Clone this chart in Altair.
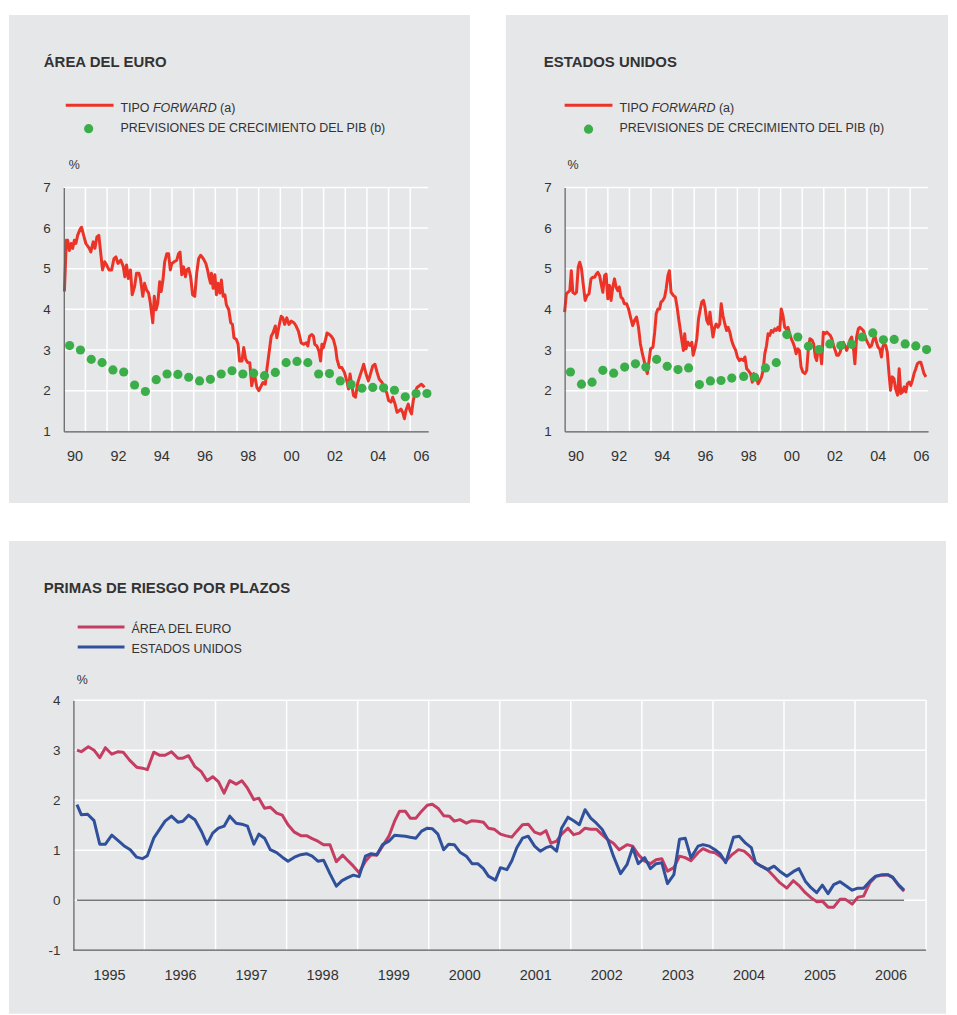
import altair as alt
import pandas as pd

# ---------------- data ----------------
# Área del euro: tipo forward (year, %)
euro_fwd = [(1990.03,4.44),(1990.12,5.70),(1990.18,5.70),(1990.26,5.45),(1990.34,5.62),(1990.41,5.50),(1990.49,5.70),(1990.56,5.62),(1990.64,5.82),(1990.76,5.98),(1990.82,6.02),(1990.92,5.82),(1991.02,5.62),(1991.18,5.50),(1991.25,5.41),(1991.36,5.66),(1991.44,5.50),(1991.53,5.78),(1991.62,5.82),(1991.71,5.37),(1991.79,4.97),(1991.89,5.17),(1991.98,5.09),(1992.09,4.97),(1992.21,4.97),(1992.32,5.25),(1992.41,5.29),(1992.50,5.13),(1992.63,5.21),(1992.75,5.05),(1992.82,4.80),(1992.90,5.09),(1992.98,4.76),(1993.08,4.97),(1993.16,4.36),(1993.27,4.56),(1993.36,4.89),(1993.47,4.89),(1993.54,4.76),(1993.65,4.32),(1993.73,4.64),(1993.82,4.48),(1993.92,4.40),(1994.00,4.15),(1994.11,3.67),(1994.18,4.32),(1994.26,3.99),(1994.34,4.15),(1994.43,4.68),(1994.50,4.44),(1994.58,4.72),(1994.66,5.17),(1994.76,5.37),(1994.84,5.37),(1994.92,4.97),(1994.99,5.13),(1995.10,5.17),(1995.22,5.21),(1995.30,5.37),(1995.37,5.41),(1995.45,4.85),(1995.53,5.05),(1995.62,4.80),(1995.68,4.97),(1995.77,5.01),(1995.86,4.80),(1995.95,4.36),(1996.05,4.32),(1996.14,4.89),(1996.23,5.25),(1996.32,5.33),(1996.44,5.25),(1996.56,5.13),(1996.64,4.97),(1996.72,4.76),(1996.78,4.64),(1996.82,4.89),(1996.90,4.52),(1996.98,4.85),(1997.05,4.36),(1997.13,4.64),(1997.21,4.40),(1997.28,4.72),(1997.36,4.32),(1997.44,4.36),(1997.51,4.11),(1997.62,3.99),(1997.71,3.67),(1997.79,3.63),(1997.86,3.30),(1997.97,3.26),(1998.05,3.14),(1998.12,2.73),(1998.23,2.73),(1998.31,3.06),(1998.40,2.77),(1998.50,2.69),(1998.59,2.69),(1998.68,2.12),(1998.77,2.37),(1998.83,2.33),(1998.92,2.08),(1999.01,2.00),(1999.12,2.12),(1999.20,2.20),(1999.31,2.16),(1999.38,2.53),(1999.47,2.89),(1999.58,3.34),(1999.66,3.42),(1999.77,3.59),(1999.84,3.30),(1999.94,3.59),(2000.04,3.83),(2000.12,3.79),(2000.20,3.63),(2000.30,3.79),(2000.40,3.63),(2000.50,3.71),(2000.63,3.67),(2000.73,3.59),(2000.84,3.46),(2000.96,3.18),(2001.07,3.14),(2001.20,3.18),(2001.27,3.10),(2001.35,3.34),(2001.46,3.38),(2001.53,3.34),(2001.59,3.14),(2001.69,3.10),(2001.78,2.98),(2001.86,2.73),(2001.92,3.14),(2001.99,3.06),(2002.09,3.26),(2002.16,3.42),(2002.27,3.38),(2002.35,3.34),(2002.45,3.26),(2002.55,3.06),(2002.62,2.77),(2002.73,2.57),(2002.84,2.57),(2002.96,2.45),(2003.07,2.24),(2003.15,2.04),(2003.22,2.41),(2003.28,2.20),(2003.38,1.88),(2003.47,1.84),(2003.58,2.20),(2003.68,2.37),(2003.78,2.53),(2003.85,2.65),(2003.96,2.41),(2004.07,2.24),(2004.14,2.37),(2004.27,2.61),(2004.37,2.65),(2004.47,2.45),(2004.57,2.28),(2004.70,2.20),(2004.80,2.04),(2004.91,1.96),(2005.00,1.76),(2005.11,1.72),(2005.19,1.84),(2005.30,1.67),(2005.39,1.47),(2005.50,1.51),(2005.57,1.55),(2005.65,1.47),(2005.73,1.31),(2005.80,1.51),(2005.91,1.67),(2005.99,1.51),(2006.06,1.43),(2006.14,1.76),(2006.23,1.96),(2006.31,2.08),(2006.42,2.12),(2006.51,2.16),(2006.60,2.12),(2006.65,2.08)]

# Área del euro: previsiones de crecimiento del PIB
euro_gdp = [(1990.27,3.11),(1990.77,3.00),(1991.27,2.77),(1991.77,2.69),(1992.27,2.51),(1992.77,2.46),(1993.27,2.14),(1993.77,1.98),(1994.27,2.27),(1994.77,2.41),(1995.27,2.40),(1995.77,2.33),(1996.27,2.24),(1996.77,2.28),(1997.27,2.41),(1997.77,2.49),(1998.27,2.41),(1998.77,2.43),(1999.27,2.37),(1999.77,2.45),(2000.27,2.69),(2000.77,2.72),(2001.27,2.69),(2001.77,2.41),(2002.27,2.42),(2002.77,2.24),(2003.27,2.15),(2003.77,2.06),(2004.27,2.08),(2004.77,2.07),(2005.27,2.01),(2005.77,1.85),(2006.27,1.93),(2006.77,1.93)]

# Estados Unidos: tipo forward
us_fwd = [(1990.00,3.93),(1990.08,4.38),(1990.15,4.42),(1990.24,4.46),(1990.31,4.95),(1990.38,4.42),(1990.47,4.38),(1990.55,4.42),(1990.63,5.04),(1990.70,5.16),(1990.78,5.00),(1990.85,4.67),(1990.95,4.22),(1991.04,4.34),(1991.13,4.38),(1991.22,4.75),(1991.31,4.79),(1991.39,4.79),(1991.47,4.87),(1991.54,4.91),(1991.62,4.83),(1991.69,4.63),(1991.77,4.42),(1991.85,4.83),(1991.92,4.87),(1992.00,4.26),(1992.08,4.59),(1992.15,4.22),(1992.23,4.55),(1992.31,4.75),(1992.38,4.55),(1992.46,4.46),(1992.53,4.55),(1992.61,4.30),(1992.69,4.26),(1992.76,4.14),(1992.87,4.14),(1992.96,4.01),(1993.05,3.81),(1993.15,3.60),(1993.24,3.73),(1993.33,3.81),(1993.42,3.56),(1993.51,3.15),(1993.60,2.91),(1993.68,2.74),(1993.76,2.54),(1993.83,2.42),(1993.91,2.74),(1993.98,3.03),(1994.09,3.07),(1994.17,3.44),(1994.24,3.89),(1994.32,4.01),(1994.40,4.01),(1994.46,4.18),(1994.55,4.22),(1994.63,4.30),(1994.70,4.50),(1994.78,4.83),(1994.85,4.95),(1994.93,4.42),(1995.04,4.34),(1995.13,4.30),(1995.21,4.05),(1995.28,3.77),(1995.36,3.48),(1995.44,3.19),(1995.50,2.99),(1995.56,3.40),(1995.62,3.03),(1995.71,3.19),(1995.80,3.11),(1995.89,3.19),(1995.95,2.87),(1996.05,3.07),(1996.12,3.28),(1996.20,3.77),(1996.27,3.97),(1996.35,4.18),(1996.43,4.22),(1996.50,4.05),(1996.58,3.73),(1996.66,3.64),(1996.73,3.93),(1996.81,3.56),(1996.87,3.32),(1996.95,3.56),(1997.02,3.64),(1997.10,3.56),(1997.18,3.64),(1997.25,4.14),(1997.33,3.85),(1997.42,3.64),(1997.50,3.48),(1997.57,3.56),(1997.65,3.44),(1997.73,3.24),(1997.82,3.10),(1997.92,2.99),(1998.00,2.83),(1998.09,2.74),(1998.17,2.78),(1998.28,2.74),(1998.35,2.83),(1998.43,2.54),(1998.50,2.50),(1998.61,2.42),(1998.69,2.21),(1998.76,2.42),(1998.86,2.34),(1998.96,2.17),(1999.04,2.25),(1999.12,2.34),(1999.19,2.50),(1999.27,2.91),(1999.35,3.11),(1999.42,3.40),(1999.50,3.36),(1999.57,3.48),(1999.65,3.44),(1999.73,3.52),(1999.80,3.48),(1999.88,3.56),(1999.96,3.48),(2000.03,4.01),(2000.11,3.85),(2000.19,3.56),(2000.26,3.52),(2000.34,3.56),(2000.42,3.40),(2000.49,3.28),(2000.57,3.19),(2000.65,3.07),(2000.72,2.91),(2000.80,3.03),(2000.87,2.99),(2000.95,2.58),(2001.03,2.46),(2001.13,2.42),(2001.21,2.50),(2001.29,3.07),(2001.36,3.28),(2001.46,3.24),(2001.53,3.15),(2001.61,2.83),(2001.67,2.74),(2001.75,3.07),(2001.82,3.03),(2001.90,2.66),(2001.98,3.44),(2002.07,3.40),(2002.14,3.44),(2002.22,3.40),(2002.30,3.36),(2002.37,3.28),(2002.45,3.11),(2002.53,2.99),(2002.60,2.87),(2002.68,2.87),(2002.76,2.95),(2002.83,3.11),(2002.91,3.19),(2002.98,3.11),(2003.06,2.99),(2003.14,3.11),(2003.21,3.24),(2003.29,3.32),(2003.37,3.07),(2003.44,2.66),(2003.52,3.32),(2003.60,3.52),(2003.67,3.56),(2003.75,3.52),(2003.83,3.48),(2003.90,3.36),(2003.98,3.24),(2004.06,3.15),(2004.13,3.07),(2004.21,3.11),(2004.28,3.24),(2004.36,3.36),(2004.44,3.19),(2004.51,3.07),(2004.59,3.03),(2004.67,2.83),(2004.73,3.07),(2004.79,3.15),(2004.87,3.11),(2004.94,2.95),(2005.02,2.42),(2005.09,2.01),(2005.17,2.34),(2005.25,2.30),(2005.32,2.05),(2005.42,1.89),(2005.49,2.54),(2005.57,1.93),(2005.65,1.97),(2005.72,2.09),(2005.80,1.97),(2005.87,2.17),(2005.95,2.21),(2006.03,2.13),(2006.10,2.25),(2006.18,2.42),(2006.26,2.54),(2006.33,2.66),(2006.41,2.70),(2006.49,2.70),(2006.56,2.58),(2006.64,2.42),(2006.73,2.34)]

# Estados Unidos: previsiones de crecimiento del PIB
us_gdp = [(1990.27,2.46),(1990.78,2.16),(1991.27,2.21),(1991.77,2.50),(1992.27,2.43),(1992.78,2.58),(1993.28,2.66),(1993.76,2.58),(1994.26,2.77),(1994.75,2.60),(1995.25,2.52),(1995.74,2.56),(1996.24,2.15),(1996.75,2.24),(1997.24,2.25),(1997.74,2.31),(1998.29,2.35),(1998.80,2.33),(1999.30,2.56),(1999.80,2.69),(2000.29,3.38),(2000.80,3.32),(2001.29,3.09),(2001.78,3.01),(2002.28,3.15),(2002.79,3.11),(2003.29,3.14),(2003.78,3.32),(2004.27,3.42),(2004.76,3.25),(2005.26,3.26),(2005.77,3.15),(2006.26,3.10),(2006.76,3.01)]

# Primas de riesgo por plazos: área del euro
prima_euro = [(1995.05,3.00),(1995.11,2.97),(1995.21,3.07),(1995.29,3.00),(1995.37,2.85),(1995.45,3.05),(1995.54,2.92),(1995.63,2.97),(1995.70,2.96),(1995.79,2.80),(1995.89,2.66),(1995.97,2.64),(1996.04,2.61),(1996.13,2.96),(1996.21,2.90),(1996.29,2.90),(1996.38,2.97),(1996.47,2.84),(1996.54,2.84),(1996.62,2.89),(1996.71,2.67),(1996.80,2.57),(1996.88,2.39),(1996.96,2.47),(1997.04,2.37),(1997.12,2.14),(1997.20,2.39),(1997.29,2.32),(1997.37,2.39),(1997.45,2.24),(1997.54,2.01),(1997.61,2.04),(1997.69,1.84),(1997.77,1.86),(1997.86,1.74),(1997.94,1.70),(1998.02,1.51),(1998.11,1.36),(1998.20,1.29),(1998.28,1.29),(1998.36,1.23),(1998.44,1.18),(1998.52,1.11),(1998.61,1.11),(1998.70,0.77),(1998.79,0.90),(1998.87,0.78),(1998.94,0.68),(1999.02,0.55),(1999.11,0.78),(1999.19,0.91),(1999.27,0.90),(1999.35,1.08),(1999.44,1.28),(1999.52,1.58),(1999.59,1.78),(1999.67,1.78),(1999.74,1.64),(1999.82,1.64),(1999.90,1.78),(1999.98,1.90),(2000.05,1.92),(2000.13,1.84),(2000.21,1.69),(2000.29,1.68),(2000.36,1.58),(2000.44,1.61),(2000.53,1.54),(2000.61,1.59),(2000.69,1.58),(2000.77,1.56),(2000.84,1.44),(2000.92,1.42),(2001.01,1.32),(2001.08,1.29),(2001.17,1.26),(2001.24,1.38),(2001.32,1.51),(2001.40,1.52),(2001.49,1.36),(2001.57,1.32),(2001.65,1.39),(2001.72,1.14),(2001.80,1.18),(2001.87,1.32),(2001.96,1.44),(2002.04,1.31),(2002.12,1.34),(2002.20,1.44),(2002.28,1.42),(2002.36,1.42),(2002.44,1.31),(2002.52,1.21),(2002.60,1.14),(2002.68,1.01),(2002.79,1.11),(2002.87,1.08),(2002.95,0.91),(2003.04,0.78),(2003.12,0.73),(2003.20,0.81),(2003.28,0.83),(2003.36,0.58),(2003.45,0.65),(2003.53,0.88),(2003.61,0.85),(2003.69,0.79),(2003.79,0.95),(2003.86,1.03),(2003.95,0.97),(2004.03,0.95),(2004.10,0.88),(2004.18,0.78),(2004.26,0.90),(2004.36,1.01),(2004.44,0.98),(2004.52,0.88),(2004.60,0.75),(2004.68,0.68),(2004.77,0.61),(2004.85,0.49),(2004.94,0.35),(2005.04,0.24),(2005.13,0.39),(2005.22,0.28),(2005.30,0.15),(2005.38,0.05),(2005.46,-0.03),(2005.54,-0.02),(2005.62,-0.14),(2005.70,-0.14),(2005.79,0.02),(2005.86,0.02),(2005.96,-0.08),(2006.04,0.06),(2006.12,0.08),(2006.21,0.35),(2006.29,0.47),(2006.38,0.50),(2006.46,0.51),(2006.53,0.45),(2006.61,0.30),(2006.69,0.18)]

# Primas de riesgo por plazos: Estados Unidos
prima_us = [(1995.05,1.91),(1995.11,1.71),(1995.20,1.72),(1995.29,1.59),(1995.37,1.12),(1995.45,1.12),(1995.54,1.30),(1995.63,1.19),(1995.71,1.09),(1995.80,1.01),(1995.89,0.86),(1995.97,0.83),(1996.04,0.89),(1996.13,1.24),(1996.21,1.41),(1996.29,1.58),(1996.38,1.68),(1996.47,1.56),(1996.54,1.58),(1996.62,1.70),(1996.71,1.61),(1996.80,1.38),(1996.88,1.12),(1996.96,1.34),(1997.04,1.44),(1997.12,1.48),(1997.20,1.68),(1997.29,1.54),(1997.37,1.52),(1997.45,1.48),(1997.54,1.12),(1997.61,1.32),(1997.69,1.24),(1997.77,1.01),(1997.86,0.95),(1997.94,0.86),(1998.02,0.78),(1998.11,0.86),(1998.20,0.91),(1998.28,0.93),(1998.36,0.88),(1998.44,0.78),(1998.52,0.80),(1998.61,0.53),(1998.70,0.28),(1998.78,0.39),(1998.86,0.45),(1998.94,0.50),(1999.02,0.47),(1999.11,0.88),(1999.19,0.93),(1999.27,0.91),(1999.35,1.11),(1999.44,1.18),(1999.52,1.30),(1999.59,1.29),(1999.67,1.28),(1999.74,1.26),(1999.82,1.24),(1999.90,1.38),(1999.98,1.44),(2000.05,1.43),(2000.13,1.32),(2000.21,1.01),(2000.28,1.12),(2000.36,1.11),(2000.44,0.96),(2000.53,0.88),(2000.61,0.73),(2000.69,0.73),(2000.77,0.63),(2000.84,0.48),(2000.94,0.40),(2001.01,0.65),(2001.10,0.61),(2001.17,0.79),(2001.24,1.05),(2001.32,1.24),(2001.40,1.28),(2001.49,1.08),(2001.57,0.98),(2001.65,1.05),(2001.72,1.08),(2001.80,0.98),(2001.87,1.44),(2001.96,1.66),(2002.04,1.59),(2002.12,1.51),(2002.20,1.81),(2002.28,1.64),(2002.36,1.54),(2002.44,1.42),(2002.52,1.21),(2002.60,0.88),(2002.70,0.53),(2002.79,0.71),(2002.87,1.05),(2002.95,0.73),(2003.04,0.85),(2003.12,0.63),(2003.20,0.73),(2003.28,0.75),(2003.36,0.33),(2003.45,0.51),(2003.53,1.22),(2003.61,1.24),(2003.69,0.85),(2003.79,1.08),(2003.86,1.11),(2003.95,1.08),(2004.03,1.01),(2004.10,0.93),(2004.18,0.75),(2004.29,1.26),(2004.37,1.28),(2004.46,1.14),(2004.54,1.05),(2004.60,0.75),(2004.68,0.68),(2004.77,0.61),(2004.86,0.68),(2004.94,0.58),(2005.04,0.48),(2005.13,0.57),(2005.21,0.63),(2005.30,0.38),(2005.38,0.25),(2005.46,0.15),(2005.54,0.30),(2005.62,0.13),(2005.70,0.31),(2005.79,0.37),(2005.86,0.30),(2005.96,0.20),(2006.04,0.24),(2006.12,0.24),(2006.21,0.38),(2006.29,0.48),(2006.38,0.51),(2006.46,0.51),(2006.53,0.46),(2006.61,0.31),(2006.69,0.20)]

# axes / tick data
top_x_domain = [1990, 2006.83]
top_label_pos = [1990.5, 1992.5, 1994.5, 1996.5, 1998.5, 2000.5, 2002.5, 2004.5, 2006.5]
top_year_lines = [1991, 1992, 1993, 1994, 1995, 1996, 1997, 1998, 1999, 2000, 2001, 2002, 2003, 2004, 2005, 2006]
top_y_ticks = [1, 2, 3, 4, 5, 6, 7]
top_y_lines = [2, 3, 4, 5, 6, 7]

bot_start, bot_end = 1995, 2007
bot_x_domain = [1994.864, 2007]   # plot area starts a little left of the y axis
bot_label_pos = [1995.5, 1996.5, 1997.5, 1998.5, 1999.5, 2000.5, 2001.5, 2002.5, 2003.5, 2004.5, 2005.5, 2006.5]
bot_year_lines = [1996, 1997, 1998, 1999, 2000, 2001, 2002, 2003, 2004, 2005, 2006, 2007]
bot_y_ticks = [-1, 0, 1, 2, 3, 4]
bot_y_lines = [0, 1, 2, 3, 4]

# ---------------- style ----------------
BG = "#e6e7e8"
RED = "#ec3327"
GREEN = "#3bae4a"
CRIMSON = "#c53d62"
BLUE = "#30509c"
AXIS = "#5e5e5e"
TXT = "#333333"
FONT = "Liberation Sans"

ONE = pd.DataFrame({"k": [0]})


def series(pairs):
    return pd.DataFrame(pairs, columns=["t", "v"])


def txt(s, x, y, size=12.5, weight="normal", style="normal"):
    return alt.Chart(ONE).mark_text(
        align="left", baseline="alphabetic", font=FONT, fontSize=size,
        fontWeight=weight, fontStyle=style, color=TXT
    ).encode(x=alt.value(x), y=alt.value(y), text=alt.value(s))


def panel_bg(x0, x1, y0, y1):
    return alt.Chart(ONE).mark_rect(color=BG).encode(
        x=alt.value(x0), x2=alt.value(x1), y=alt.value(y0), y2=alt.value(y1))


def leg_line(x0, x1, y, color):
    return alt.Chart(ONE).mark_rule(color=color, strokeWidth=3).encode(
        x=alt.value(x0), x2=alt.value(x1), y=alt.value(y))


def leg_dot(x, y):
    return alt.Chart(ONE).mark_circle(color=GREEN, size=85, opacity=1).encode(
        x=alt.value(x), y=alt.value(y))


def make_axes(label_pos, label_expr, yticks, x_domain_line=True, y_offset=0):
    xax = alt.Axis(values=label_pos, labelExpr=label_expr, ticks=False, grid=False,
                   domain=x_domain_line, domainColor=AXIS, domainWidth=1.2,
                   labelColor=TXT, labelFont=FONT, labelFontSize=14.5, labelPadding=18,
                   labelFlush=False, labelOverlap=False, title=None, zindex=1)
    yax = alt.Axis(values=yticks, labelExpr="toString(datum.value)", ticks=False, grid=False,
                   domainColor=AXIS, domainWidth=1.2, labelColor=TXT, labelFont=FONT,
                   labelFontSize=13.5, labelPadding=13.5, labelFlush=False,
                   labelOverlap=False, title=None, zindex=1, offset=y_offset)
    return xax, yax


def top_panel(fwd, gdp, title, w, h, rect, p):
    xs = alt.Scale(domain=top_x_domain, nice=False, zero=False)
    ys = alt.Scale(domain=[1, 7], nice=False, zero=False)
    xax, yax = make_axes(top_label_pos, "substring(toString(floor(datum.value)), 2, 4)", top_y_ticks)
    hg = alt.Chart(pd.DataFrame({"g": top_y_lines})).mark_rule(color="white", strokeWidth=1.5).encode(
        y=alt.Y("g:Q", scale=ys, axis=yax))
    vg = alt.Chart(pd.DataFrame({"yr": top_year_lines})).mark_rule(color="white", strokeWidth=1.5).encode(
        x=alt.X("yr:Q", scale=xs, axis=xax))
    line = alt.Chart(series(fwd)).mark_line(color=RED, strokeWidth=3, strokeJoin="round").encode(
        x=alt.X("t:Q", scale=xs, axis=xax), y=alt.Y("v:Q", scale=ys, axis=yax))
    dots = alt.Chart(series(gdp)).mark_circle(color=GREEN, size=85, opacity=1).encode(
        x=alt.X("t:Q", scale=xs, axis=xax), y=alt.Y("v:Q", scale=ys, axis=yax))
    return alt.layer(
        panel_bg(*rect), hg, vg, line, dots,
        txt(title, p["tx"], p["ty"], size=15, weight="bold"),
        leg_line(p["lx0"], p["lx0"] + 48, p["ly"], RED),
        txt("TIPO", p["kx"], p["ky"]),
        txt("FORWARD", p["kx"] + 32.5, p["ky"], style="italic"),
        txt("(a)", p["kx"] + 100, p["ky"]),
        leg_dot(p["dx"], p["dy"]),
        txt("PREVISIONES DE CRECIMIENTO DEL PIB (b)", p["kx"], p["ky2"]),
        txt("%", p["px"], p["py"], size=12.5),
    ).properties(width=w, height=h)


left = top_panel(euro_fwd, euro_gdp, "ÁREA DEL EURO", 366, 245,
                 (-55, 408, -173, 317),
                 dict(tx=-20, ty=-121, lx0=2, ly=-82.5, kx=57, ky=-76, dx=25, dy=-59,
                      ky2=-55.5, px=5, py=-18))
right = top_panel(us_fwd, us_gdp, "ESTADOS UNIDOS", 365, 245,
                  (-59, 385, -173, 317),
                  dict(tx=-21, ty=-121, lx0=0, ly=-82.5, kx=55, ky=-75.5, dx=24, dy=-58.5,
                       ky2=-55.5, px=3, py=-18))

# bottom panel (plot area origin aligned with the top-left panel; y axis pushed inwards)
bxs = alt.Scale(domain=bot_x_domain, nice=False, zero=False)
bys = alt.Scale(domain=[-1, 4], nice=False, zero=False)
bxax, byax = make_axes(bot_label_pos, "toString(floor(datum.value))", bot_y_ticks,
                       x_domain_line=False, y_offset=-9.7)
bX = lambda f: alt.X(f, scale=bxs, axis=bxax)
bY = lambda f: alt.Y(f, scale=bys, axis=byax)

hgrid_df = pd.DataFrame({"g": bot_y_lines, "x0": bot_start, "x1": bot_end})
bhg = alt.Chart(hgrid_df).mark_rule(color="white", strokeWidth=1.5).encode(
    x=bX("x0:Q"), x2="x1:Q", y=bY("g:Q"))
bvg = alt.Chart(pd.DataFrame({"yr": bot_year_lines})).mark_rule(color="white", strokeWidth=1.5).encode(
    x=bX("yr:Q"))
base_df = pd.DataFrame({"x0": [bot_start], "x1": [bot_end], "b": [-1]})
base_line = alt.Chart(base_df).mark_rule(color=AXIS, strokeWidth=1.2).encode(
    x=bX("x0:Q"), x2="x1:Q", y=bY("b:Q"))
zero_df = pd.DataFrame({"t0": [prima_euro[0][0]], "t1": [prima_euro[-1][0]], "z": [0]})
zero_line = alt.Chart(zero_df).mark_rule(color="#777777", strokeWidth=1.5).encode(
    x=bX("t0:Q"), x2="t1:Q", y=bY("z:Q"))
euro_line = alt.Chart(series(prima_euro)).mark_line(color=CRIMSON, strokeWidth=3, strokeJoin="round").encode(
    x=bX("t:Q"), y=bY("v:Q"))
us_line = alt.Chart(series(prima_us)).mark_line(color=BLUE, strokeWidth=3, strokeJoin="round").encode(
    x=bX("t:Q"), y=bY("v:Q"))

bottom = alt.layer(
    panel_bg(-55, 886, -160, 315), bhg, bvg, zero_line, euro_line, us_line, base_line,
    txt("PRIMAS DE RIESGO POR PLAZOS", -20, -108, size=15, weight="bold"),
    leg_line(14, 61, -73.5, CRIMSON),
    txt("ÁREA DEL EURO", 68, -67),
    leg_line(14, 61, -53.5, BLUE),
    txt("ESTADOS UNIDOS", 68, -47),
    txt("%", 13, -16),
).properties(width=866, height=251)

chart = alt.vconcat(
    alt.hconcat(left, right, spacing=34),
    bottom,
    spacing=36,
).properties(
    padding={"left": 0, "top": 4, "right": 0, "bottom": 0},
    background="white",
).configure_view(stroke="transparent")

chart.save("out.html", embed_options={"renderer": "svg", "actions": False})
